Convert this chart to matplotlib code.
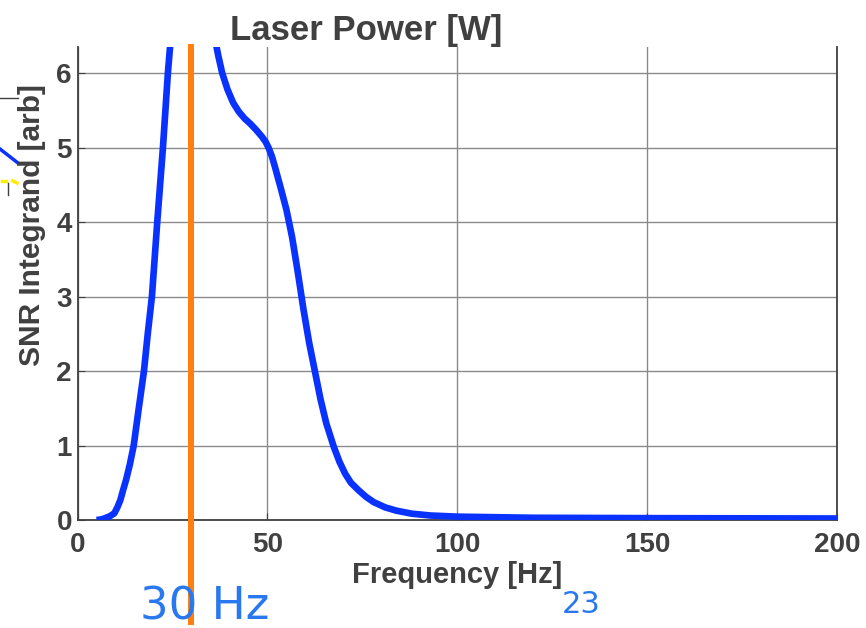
import matplotlib
matplotlib.use("Agg")
import matplotlib.pyplot as plt
from matplotlib.lines import Line2D

# ---- data ----
freq = [5, 6, 7, 8.5, 9.7, 10.5, 11.3, 12, 12.8, 13.8, 14.8, 16, 17.5, 18.5, 19.6,
        21.0, 22.5, 23.8, 25.1, 27, 30, 33, 36.2, 37, 38.1, 39.5, 41, 42.5, 44,
        45.5, 47, 48.5, 49.5, 50.3, 51.2, 52, 53.5, 55, 56.5, 58, 59.5, 61, 62.5,
        64, 65.5, 67.5, 69, 70.5, 72, 74, 76, 78, 81, 84, 88, 93, 100, 120, 150,
        200]
snr = [0.0, 0.005, 0.02, 0.05, 0.09, 0.17, 0.27, 0.4, 0.54, 0.75, 1.0, 1.45, 2.0,
       2.5, 3.0, 4.0, 5.0, 6.0, 6.8, 7.8, 8.2, 7.6, 6.46, 6.25, 6.0, 5.78, 5.6,
       5.48, 5.39, 5.32, 5.24, 5.15, 5.08, 5.0, 4.88, 4.74, 4.46, 4.17, 3.8, 3.33,
       2.83, 2.38, 2.0, 1.62, 1.3, 0.98, 0.78, 0.62, 0.5, 0.4, 0.31, 0.24, 0.17,
       0.125, 0.085, 0.06, 0.045, 0.03, 0.025, 0.02]
marker_freq = 30
xticks = [0, 50, 100, 150, 200]
yticks = [0, 1, 2, 3, 4, 5, 6]

W, H = 866, 628
fig = plt.figure(figsize=(W / 100, H / 100), dpi=100)
L, R, B, T = 77.5, 837, 520, 47
ax = fig.add_axes([L / W, (H - B) / H, (R - L) / W, (B - T) / H])

dark = "#404040"
ax.plot(freq, snr, color="#0a32ff", lw=4.8, solid_joinstyle="round",
        solid_capstyle="butt", zorder=3)
ax.plot([marker_freq, marker_freq], [-1.37, 6.35], color="#ff7f0e", lw=4.3,
        clip_on=False, zorder=4)

ax.set_xlim(0, 200)
ax.set_ylim(0, 6.35)
ax.set_xticks(xticks)
ax.set_yticks(yticks)
ax.grid(True, color="#8a8a8a", lw=1.0)
ax.set_axisbelow(True)
for s in ["left", "bottom", "right"]:
    ax.spines[s].set_color(dark)
    ax.spines[s].set_linewidth(1.3)
ax.spines["top"].set_visible(False)
ax.tick_params(direction="in", length=5, color=dark, labelcolor=dark,
               labelsize=20)
ax.tick_params(axis="x", pad=9)
ax.tick_params(axis="y", pad=4)
for lab in ax.get_xticklabels() + ax.get_yticklabels():
    lab.set_fontfamily("Liberation Sans")
    lab.set_fontweight("bold")

ax.set_xlabel("Frequency [Hz]", fontsize=21, fontweight="bold", color=dark,
              family="Liberation Sans", labelpad=2)

def px(x, y):
    return x / W, 1 - y / H

fig.text(*px(32, 225), "SNR Integrand [arb]", rotation=90, ha="center", va="center",
         fontsize=21.5, fontweight="bold", color=dark, family="Liberation Sans")
fig.text(*px(366, 40), "Laser Power [W]", ha="center", va="baseline",
         fontsize=25, fontweight="bold", color=dark, family="Liberation Sans")
fig.text(*px(140, 619), "30 Hz", ha="left", va="baseline", fontsize=32.5,
         color="#2a78f0", family="DejaVu Sans", zorder=5)
fig.text(*px(562, 613), "23", ha="left", va="baseline", fontsize=22,
         color="#2a78f0", family="DejaVu Sans")

# fragments of neighbouring panels at left edge
def fline(xs, ys, **kw):
    fig.add_artist(Line2D([x / W for x in xs], [1 - y / H for y in ys], **kw))

fline([0, 18], [98, 98], color=dark, lw=1.0)
fline([0, 18], [149, 163], color="#0a32ff", lw=2.5)
fline([2, 6], [181, 181], color="#ffee00", lw=2.5)
fline([13, 17], [181, 183], color="#ffee00", lw=2.5)
fline([8, 8], [183, 195], color=dark, lw=1.0)

fig.savefig("out.png", dpi=100)
